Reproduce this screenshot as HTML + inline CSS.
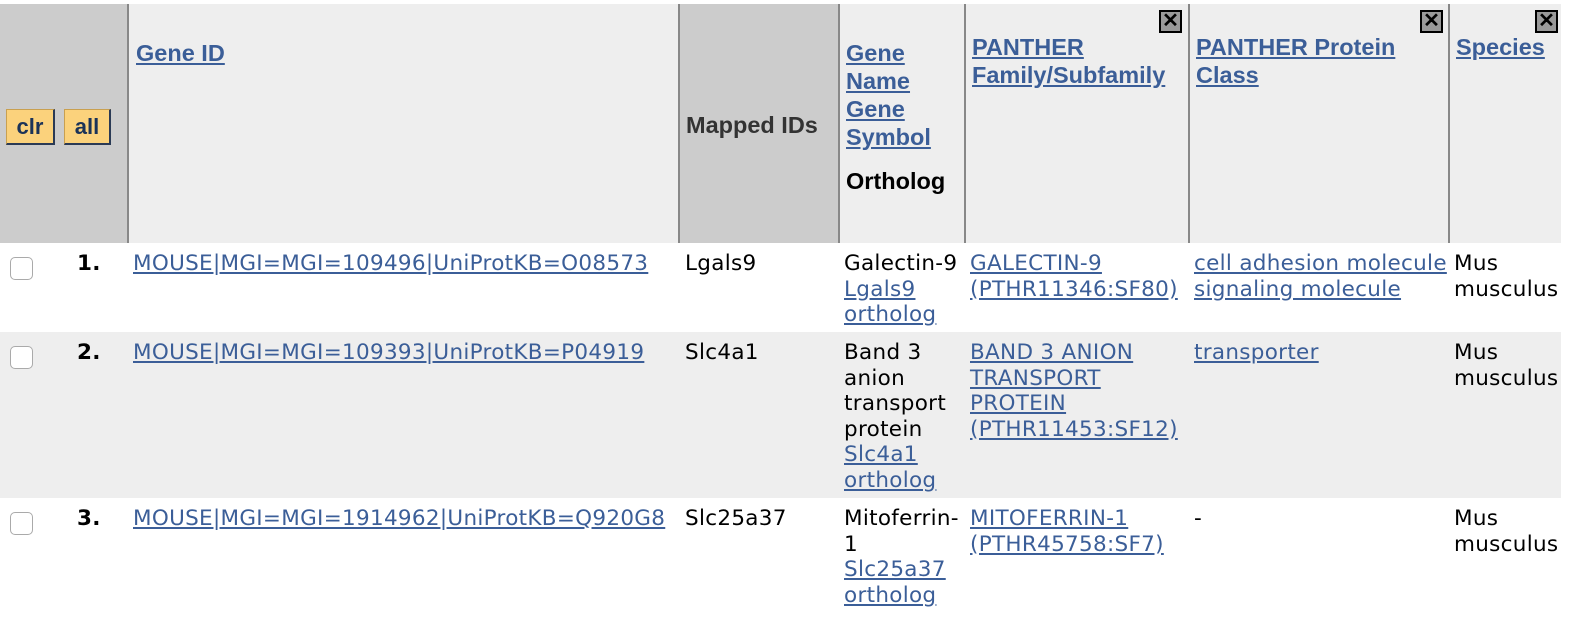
<!DOCTYPE html>
<html><head><meta charset="utf-8"><style>
body{margin:0;width:1582px;height:626px;background:#fff;position:relative;overflow:hidden;font-family:"DejaVu Sans","Liberation Sans",sans-serif}
.a{position:absolute}
.h{font-family:"Liberation Sans",Arial,sans-serif;font-weight:bold;font-size:23.5px;line-height:28px;color:#3b5e98}
.h a,.t a{color:#3b5e98;text-decoration:underline}
.t{font-size:21.5px;line-height:25.5px;color:#000;white-space:nowrap;letter-spacing:0.3px}
.bl{color:#000;font-weight:bold}
.btn{position:absolute;top:109px;height:36px;background:#fbd27c;border:1px solid #c9a050;border-right:2px solid #2a3a55;border-bottom:2px solid #2a3a55;font:bold 22px "Liberation Sans",sans-serif;color:#1b3358;text-align:center;line-height:34px;box-sizing:border-box}
.x{position:absolute;top:10px;width:23px;height:23px;background:#999;border:2px solid #000;box-sizing:border-box;font:bold 20px "Liberation Sans",sans-serif;line-height:19px;text-align:center;color:#000}
.cb{position:absolute;width:23px;height:23px;border:1px solid #aaa;border-radius:5px;background:#fff;box-sizing:border-box}
.vl{position:absolute;top:4px;height:239px;width:2px;background:#888}
</style></head><body>
<div class="a" style="left:0;top:4px;width:1561px;height:239px;background:#eee"></div>
<div class="a" style="left:0;top:4px;width:128px;height:239px;background:#ccc"></div>
<div class="a" style="left:679px;top:4px;width:160px;height:239px;background:#ccc"></div>
<div class="vl" style="left:127px"></div><div class="vl" style="left:678px"></div><div class="vl" style="left:838px"></div><div class="vl" style="left:964px"></div><div class="vl" style="left:1188px"></div><div class="vl" style="left:1448px"></div>
<div class="btn" style="left:6px;width:49px">clr</div>
<div class="btn" style="left:64px;width:47px">all</div>
<div class="a h" style="left:136px;top:39px"><a>Gene ID</a></div>
<div class="a h" style="left:686px;top:111px;color:#333">Mapped IDs</div>
<div class="a h" style="left:846px;top:39px"><a>Gene</a><br><a>Name</a><br><a>Gene</a><br><a>Symbol</a><br><span style="color:#000;line-height:60px">Ortholog</span></div>
<div class="a h" style="left:972px;top:33px"><a>PANTHER</a><br><a>Family/Subfamily</a></div>
<div class="a h" style="left:1196px;top:33px"><a>PANTHER Protein</a><br><a>Class</a></div>
<div class="a h" style="left:1456px;top:33px"><a>Species</a></div>
<div class="x" style="left:1159px">✕</div>
<div class="x" style="left:1420px">✕</div>
<div class="x" style="left:1535px">✕</div>

<div class="a" style="left:0;top:332px;width:1561px;height:166px;background:#eee"></div>

<div class="cb" style="left:10px;top:257px"></div>
<div class="a t bl" style="left:77px;top:251px">1.</div>
<div class="a t" style="left:133px;top:251px"><a>MOUSE|MGI=MGI=109496|UniProtKB=O08573</a></div>
<div class="a t" style="left:685px;top:251px">Lgals9</div>
<div class="a t" style="left:844px;top:251px">Galectin-9<br><a>Lgals9</a><br><a>ortholog</a></div>
<div class="a t" style="left:970px;top:251px"><a>GALECTIN-9</a><br><a>(PTHR11346:SF80)</a></div>
<div class="a t" style="left:1194px;top:251px"><a>cell adhesion molecule</a><br><a>signaling molecule</a></div>
<div class="a t" style="left:1454px;top:251px">Mus<br>musculus</div>

<div class="cb" style="left:10px;top:346px"></div>
<div class="a t bl" style="left:77px;top:340px">2.</div>
<div class="a t" style="left:133px;top:340px"><a>MOUSE|MGI=MGI=109393|UniProtKB=P04919</a></div>
<div class="a t" style="left:685px;top:340px">Slc4a1</div>
<div class="a t" style="left:844px;top:340px">Band 3<br>anion<br>transport<br>protein<br><a>Slc4a1</a><br><a>ortholog</a></div>
<div class="a t" style="left:970px;top:340px"><a>BAND 3 ANION</a><br><a>TRANSPORT</a><br><a>PROTEIN</a><br><a>(PTHR11453:SF12)</a></div>
<div class="a t" style="left:1194px;top:340px"><a>transporter</a></div>
<div class="a t" style="left:1454px;top:340px">Mus<br>musculus</div>

<div class="cb" style="left:10px;top:512px"></div>
<div class="a t bl" style="left:77px;top:506px">3.</div>
<div class="a t" style="left:133px;top:506px"><a>MOUSE|MGI=MGI=1914962|UniProtKB=Q920G8</a></div>
<div class="a t" style="left:685px;top:506px">Slc25a37</div>
<div class="a t" style="left:844px;top:506px">Mitoferrin-<br>1<br><a>Slc25a37</a><br><a>ortholog</a></div>
<div class="a t" style="left:970px;top:506px"><a>MITOFERRIN-1</a><br><a>(PTHR45758:SF7)</a></div>
<div class="a t" style="left:1194px;top:506px">-</div>
<div class="a t" style="left:1454px;top:506px">Mus<br>musculus</div>
</body></html>
